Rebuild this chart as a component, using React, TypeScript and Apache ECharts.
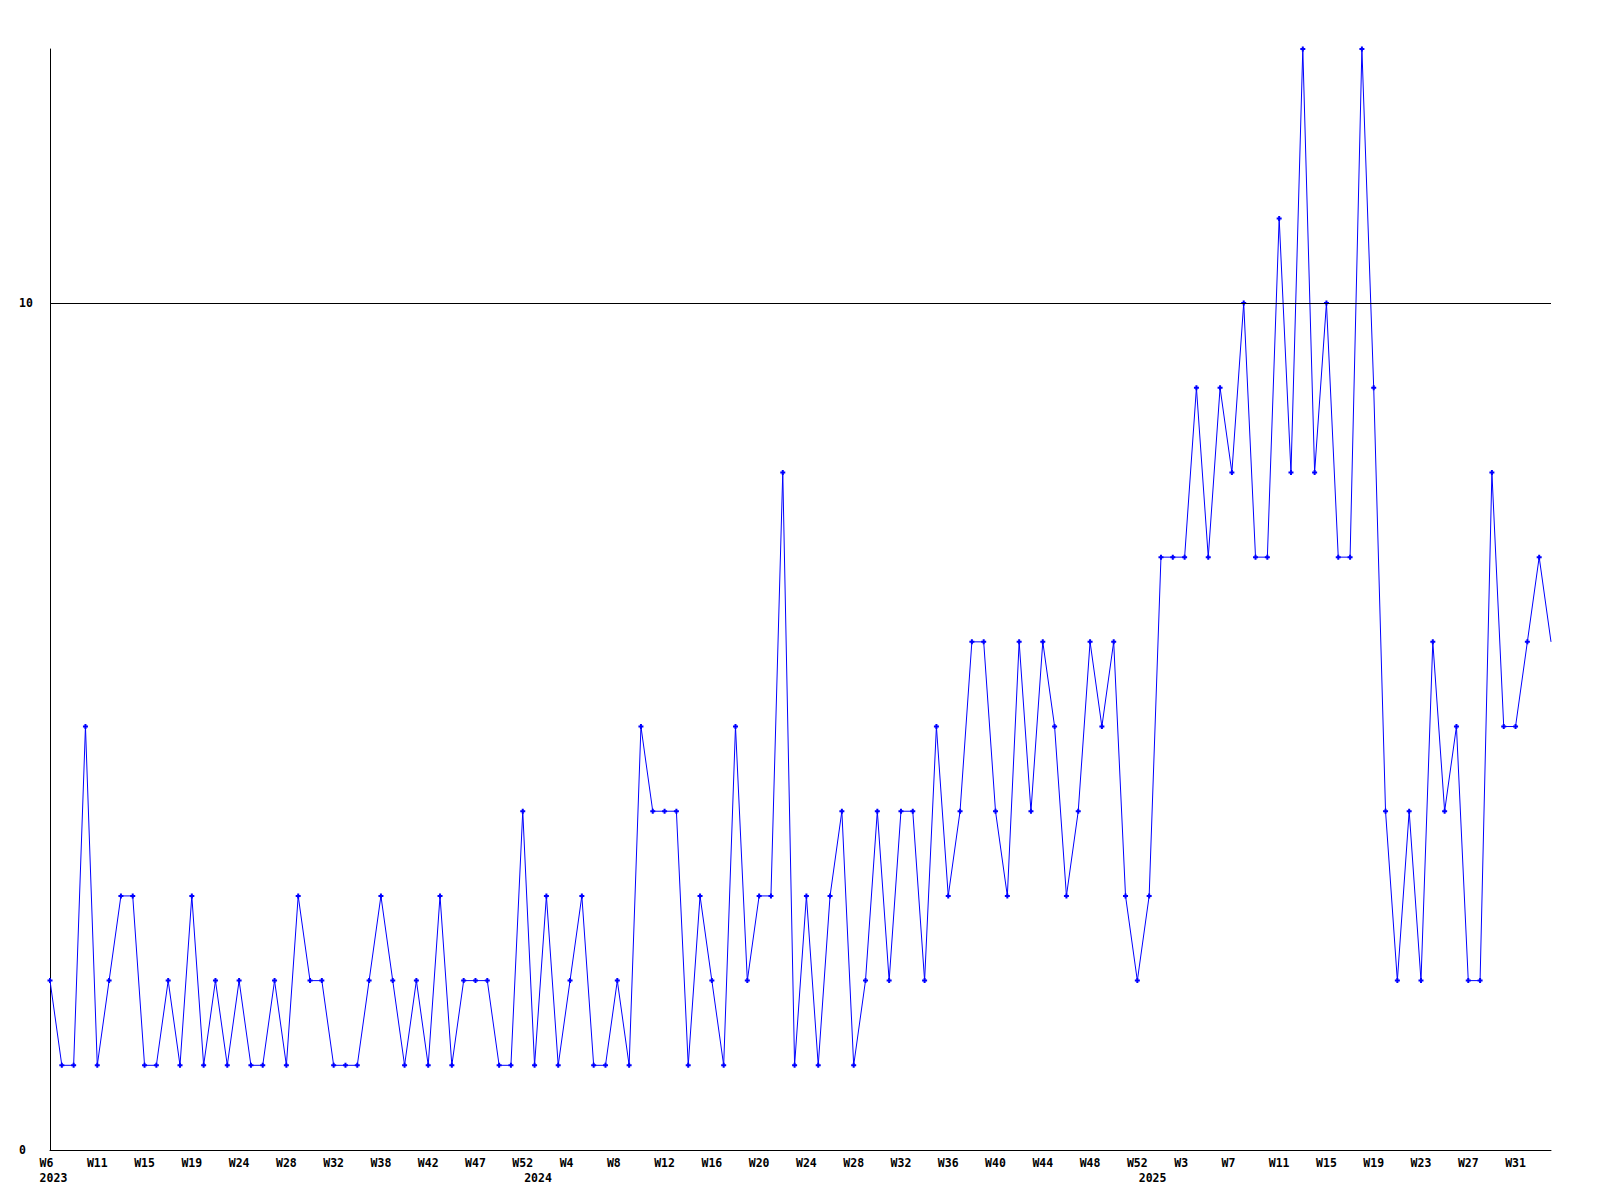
import React, { useEffect, useRef } from "react";
import * as echarts from "echarts";

const values: number[] = [
  2, 1, 1, 5, 1, 2, 3, 3, 1, 1,
  2, 1, 3, 1, 2, 1, 2, 1, 1, 2,
  1, 3, 2, 2, 1, 1, 1, 2, 3, 2,
  1, 2, 1, 3, 1, 2, 2, 2, 1, 1,
  4, 1, 3, 1, 2, 3, 1, 1, 2, 1,
  5, 4, 4, 4, 1, 3, 2, 1, 5, 2,
  3, 3, 8, 1, 3, 1, 3, 4, 1, 2,
  4, 2, 4, 4, 2, 5, 3, 4, 6, 6,
  4, 3, 6, 4, 6, 5, 3, 4, 6, 5,
  6, 3, 2, 3, 7, 7, 7, 9, 7, 9,
  8, 10, 7, 7, 11, 8, 13, 8, 10, 7,
  7, 13, 9, 4, 2, 4, 2, 6, 4, 5,
  2, 2, 8, 5, 5, 6, 7, 6,
];

// week tick labels, one every 4th point
const weekLabels: string[] = [
  "W6", "W11", "W15", "W19", "W24", "W28", "W32", "W38", "W42", "W47", "W52",
  "W4", "W8", "W12", "W16", "W20", "W24", "W28", "W32", "W36", "W40", "W44", "W48", "W52",
  "W3", "W7", "W11", "W15", "W19", "W23", "W27", "W31",
];

// year labels and the point index where each year starts
const yearLabels: string[] = ["2023", "2024", "2025"];
const yearStartIndex: number[] = [0, 41, 93];

const yTickLabels: number[] = [0, 10];
const referenceLine = 10;

const FONT = "DejaVu Sans Mono";

export default function App() {
  const ref = useRef<HTMLDivElement>(null);

  useEffect(() => {
    if (!ref.current) return;
    const chart = echarts.init(ref.current, undefined, { renderer: "svg" });
    const categories = values.map((_, i) => String(i));
    const pad3 = (s: string) => (s.length < 3 ? s + " ".repeat(3 - s.length) : s);
    const labelStyle = {
      fontFamily: FONT,
      fontWeight: "bold" as const,
      fontSize: 11.5,
      color: "#000",
    };

    chart.setOption({
      animation: false,
      backgroundColor: "#fff",
      grid: { left: 50, right: 49, top: 49, bottom: 50, containLabel: false },
      xAxis: [
        {
          type: "category",
          data: categories,
          boundaryGap: false,
          position: "bottom",
          axisLine: { show: true, lineStyle: { color: "#000", width: 1 } },
          axisTick: { show: false },
          splitLine: { show: false },
          axisLabel: {
            ...labelStyle,
            interval: 3,
            margin: 7,
            formatter: (_v: string, i: number) =>
              i % 4 === 0 && weekLabels[i / 4] ? pad3(weekLabels[i / 4]) : "",
          },
        },
        {
          type: "category",
          data: categories,
          boundaryGap: false,
          position: "bottom",
          axisLine: { show: false },
          axisTick: { show: false },
          splitLine: { show: false },
          axisLabel: {
            ...labelStyle,
            margin: 22,
            interval: (i: number) => yearStartIndex.includes(i),
            formatter: (_v: string, i: number) => {
              const k = yearStartIndex.indexOf(i);
              return k >= 0 ? " " + yearLabels[k] : "";
            },
          },
        },
      ],
      yAxis: {
        type: "value",
        min: 0,
        max: 13,
        interval: 10,
        axisLine: { show: true, lineStyle: { color: "#000", width: 1 } },
        axisTick: { show: false },
        splitLine: { show: false },
        axisLabel: {
          ...labelStyle,
          align: "left",
          margin: 31,
          formatter: (v: number) => (yTickLabels.includes(v) ? String(v) : ""),
        },
      },
      series: [
        {
          type: "line",
          xAxisIndex: 0,
          data: values.map((v, i) =>
            i === values.length - 1 ? { value: v, symbol: "none" } : v
          ),
          symbol: "path://M1.5 0H3.5V1.5H5V3.5H3.5V5H1.5V3.5H0V1.5H1.5Z",
          symbolSize: 5,
          showAllSymbol: true,
          lineStyle: { color: "#0000ff", width: 1 },
          itemStyle: { color: "#0000ff" },
          markLine: {
            silent: true,
            symbol: "none",
            label: { show: false },
            lineStyle: { color: "#000", width: 1, type: "solid" },
            data: [{ yAxis: referenceLine }],
          },
        },
      ],
    });
    return () => chart.dispose();
  }, []);

  return (
    <div
      ref={ref}
      style={{ position: "absolute", left: 0, top: 0, width: 1600, height: 1200 }}
    />
  );
}
